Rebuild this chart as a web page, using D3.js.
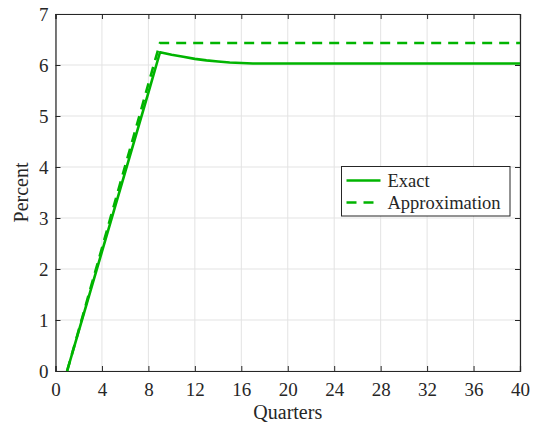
<!DOCTYPE html>
<html>
<head>
<meta charset="utf-8">
<script src="https://cdn.jsdelivr.net/npm/d3@7"></script>
<style>
  body { margin: 0; background: #fff; }
  text { font-family: "Liberation Serif", "DejaVu Serif", serif; fill: #262626; }
</style>
</head>
<body>
<div id="chart"></div>
<script>
// quarters and series
const quarters = [1, 2, 3, 4, 5, 6, 7, 8, 9, 10, 11, 12, 13, 14, 15, 16, 17, 18, 20, 24, 28, 32, 36, 40];
const exact = [0, 0.78, 1.56, 2.34, 3.12, 3.9, 4.68, 5.46, 6.25, 6.2, 6.16, 6.12, 6.09, 6.07, 6.05, 6.04, 6.03, 6.03, 6.03, 6.03, 6.03, 6.03, 6.03, 6.03];
const approx = [0, 0.8, 1.61, 2.41, 3.22, 4.02, 4.82, 5.63, 6.43, 6.43, 6.43, 6.43, 6.43, 6.43, 6.43, 6.43, 6.43, 6.43, 6.43, 6.43, 6.43, 6.43, 6.43, 6.43];
const xTicks = [0, 4, 8, 12, 16, 20, 24, 28, 32, 36, 40];
const yTicks = [0, 1, 2, 3, 4, 5, 6, 7];
const legendLabels = ['Exact', 'Approximation'];

const W = 534, H = 427;
const margin = { left: 55.5, right: 14, top: 14, bottom: 56 };
const width = W - margin.left - margin.right;
const height = H - margin.top - margin.bottom;
const green = '#00b400';

const svg = d3.select('#chart').append('svg')
  .attr('width', W)
  .attr('height', H);

const g = svg.append('g')
  .attr('transform', 'translate(' + margin.left + ',' + margin.top + ')');

const x = d3.scaleLinear().domain([0, 40]).range([0, width]);
const y = d3.scaleLinear().domain([0, 7]).range([height, 0]);

// grid
g.append('g').selectAll('line').data(xTicks).join('line')
  .attr('x1', d => x(d)).attr('x2', d => x(d))
  .attr('y1', 0).attr('y2', height)
  .attr('stroke', '#e3e3e3').attr('stroke-width', 1);
g.append('g').selectAll('line').data(yTicks).join('line')
  .attr('y1', d => y(d)).attr('y2', d => y(d))
  .attr('x1', 0).attr('x2', width)
  .attr('stroke', '#e3e3e3').attr('stroke-width', 1);

// axes, ticks pointing inward
const fmt = d3.format('d');
const xAxis = d3.axisBottom(x).tickValues(xTicks).tickFormat(fmt).tickSize(-5).tickPadding(10);
const yAxis = d3.axisLeft(y).tickValues(yTicks).tickFormat(fmt).tickSize(-5).tickPadding(10);

const gx = g.append('g')
  .attr('transform', 'translate(0,' + height + ')')
  .call(xAxis);
const gy = g.append('g').call(yAxis);
const gxTop = g.append('g').call(d3.axisTop(x).tickValues(xTicks).tickSize(-5).tickFormat(''));
const gyRight = g.append('g')
  .attr('transform', 'translate(' + width + ',0)')
  .call(d3.axisRight(y).tickValues(yTicks).tickSize(-5).tickFormat(''));

[gx, gy, gxTop, gyRight].forEach(a => {
  a.attr('font-family', null);
  a.select('.domain').attr('stroke', '#262626').attr('stroke-width', 1.2);
  a.selectAll('.tick line').attr('stroke', '#262626');
  a.selectAll('text')
    .style('font-family', '"Liberation Serif", serif')
    .style('font-size', '19px')
    .attr('fill', '#262626');
});
gx.selectAll('text').attr('dy', '0.8em');
gy.selectAll('text').attr('dx', '3px');

// lines
const line = d3.line().x(d => x(d[0])).y(d => y(d[1]));

g.append('path')
  .datum(quarters.map((q, i) => [q, approx[i]]))
  .attr('fill', 'none')
  .attr('stroke', green)
  .attr('stroke-width', 2.6)
  .attr('stroke-dasharray', '10,7')
  .attr('d', line);

g.append('path')
  .datum(quarters.map((q, i) => [q, exact[i]]))
  .attr('fill', 'none')
  .attr('stroke', green)
  .attr('stroke-width', 2.6)
  .attr('stroke-linejoin', 'round')
  .attr('d', line);

// axis labels
svg.append('text')
  .attr('x', margin.left + width / 2)
  .attr('y', 419)
  .attr('text-anchor', 'middle')
  .style('font-size', '20px')
  .text('Quarters');

svg.append('text')
  .attr('transform', 'translate(28,' + (margin.top + height / 2) + ') rotate(-90)')
  .attr('text-anchor', 'middle')
  .style('font-size', '20px')
  .text('Percent');

// legend
const lg = svg.append('g').attr('transform', 'translate(341.5,166.5)');
lg.append('rect')
  .attr('width', 168.5).attr('height', 49.5)
  .attr('fill', '#fff').attr('stroke', '#262626').attr('stroke-width', 1);

legendLabels.forEach((lab, i) => {
  const yy = 14 + i * 22;
  lg.append('line')
    .attr('x1', 5).attr('x2', 39)
    .attr('y1', yy).attr('y2', yy)
    .attr('stroke', green).attr('stroke-width', 2.6)
    .attr('stroke-dasharray', i === 1 ? '10,7' : null);
  lg.append('text')
    .attr('x', 46).attr('y', yy)
    .attr('dy', '0.35em')
    .style('font-size', '18.5px')
    .text(lab);
});
</script>
</body>
</html>
